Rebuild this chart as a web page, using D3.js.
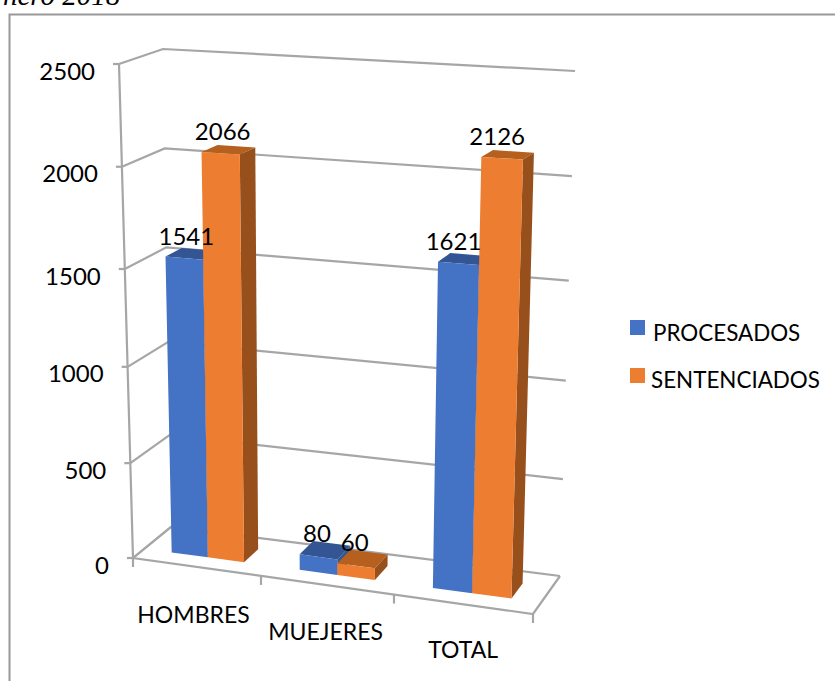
<!DOCTYPE html>
<html><head><meta charset="utf-8">
<script src="https://cdn.jsdelivr.net/npm/d3@7"></script>
<style>html,body{margin:0;padding:0;background:#fff;overflow:hidden}svg{display:block}text{font-family:Lato,sans-serif;fill:#000}</style>
</head><body><svg id="c" width="835" height="681"></svg>
<script>
const categories = ["HOMBRES","MUEJERES","TOTAL"];
const seriesNames = ["PROCESADOS","SENTENCIADOS"];
const procesados = [1541,80,1621];
const sentenciados = [2066,60,2126];
const yTicks = [0,500,1000,1500,2000,2500];
const titleText = "nero 2018";

const front=["#4472C4","#ED7D31"], top_=["#335593","#B5601F"], side=["#2F5597","#97501C"];
const grid="#A6A6A6";
const svg=d3.select("#c");

// depth-projection: four vertical edges of the 3-D box
const edges={
 fl:{b:[133,558],t:[119,64]},
 fr:{b:[533,614],t:[549,84]},
 bl:{b:[171,527],t:[163,49]},
 br:{b:[560,576],t:[575,71]}
};
const vT=d3.scaleLinear().domain(yTicks).range([0,.192,.387,.585,.792,1]);
const uT=d3.scaleLinear().domain([0,1/3,2/3,1]).range([0,.32,.6525,1]);
const lerp=(a,b,t)=>[a[0]+(b[0]-a[0])*t,a[1]+(b[1]-a[1])*t];
function P(u0,d,v){
 const t=vT(v),u=uT(u0);
 const e=k=>lerp(edges[k].b,edges[k].t,t);
 return lerp(lerp(e("fl"),e("fr"),u),lerp(e("bl"),e("br"),u),d);
}
const x0=d3.scaleBand().domain(categories).range([0,1]).paddingInner(.43).paddingOuter(.215);
const x1=d3.scaleBand().domain(seriesNames).range([0,x0.bandwidth()]);
const D0=.3,D1=.7;
const line=pts=>"M"+pts.map(p=>p.join(",")).join("L");

// frame: only the top and left rules fall inside the picture
svg.append("path").attr("d","M9.5,681L9.5,14.5L835,14.5").attr("fill","none")
 .attr("stroke","#999").attr("stroke-width",2);

svg.append("text").text(titleText).attr("x",3).attr("y",4.5)
 .style("font-family","'Liberation Serif',serif").style("font-style","italic").style("font-size","29px");

const W=2.2;
const G=svg.append("g").attr("fill","none").attr("stroke",grid).attr("stroke-width",W);
yTicks.forEach(v=>{
 G.append("path").attr("d",line([P(0,0,v),P(0,1,v),P(1,1,v)]));
 const p=P(0,0,v);
 G.append("path").attr("d",line([[p[0]-6,p[1]],p]));
});
G.append("path").attr("d",line([P(0,0,0),P(0,0,2500)]));
G.append("path").attr("d",line([P(0,1,0),P(0,0,0),P(1,0,0),P(1,1,0)]));
[0,1,2,3].forEach(i=>{const p=P(i/3,0,0);G.append("path").attr("d",line([p,[p[0],p[1]+9]]));});

// bars
const seriesValues=[procesados,sentenciados];
const bars=svg.append("g");
categories.forEach((c,ci)=>{
 seriesNames.forEach((s,si)=>{
  const v=seriesValues[si][ci];
  const a=x0(c)+x1(s), b=a+x1.bandwidth();
  bars.append("path").attr("fill",top_[si]).attr("d",line([P(a,D0,v),P(b,D0,v),P(b,D1,v),P(a,D1,v)])+"Z");
  bars.append("path").attr("fill",side[si]).attr("d",line([P(b,D0,v),P(b,D1,v),P(b,D1,0),P(b,D0,0)])+"Z");
  bars.append("path").attr("fill",front[si]).attr("d",line([P(a,D0,v),P(b,D0,v),P(b,D0,0),P(a,D0,0)])+"Z");
 });
});

const numSize=24, capSize=23, legSize=22.4;
// axis labels
yTicks.forEach(v=>{
 const p=P(0,0,v);
 svg.append("text").text(v).attr("x",p[0]-24).attr("y",p[1]+15.5).attr("text-anchor","end").style("font-size",numSize+"px");
});
categories.forEach((c,i)=>{
 const p=P((i+.5)/3,0,0);
 svg.append("text").text(c).attr("x",p[0]-3.5+1.6*i).attr("y",p[1]+56-i).attr("text-anchor","middle").style("font-size",capSize+"px");
});
// data labels
categories.forEach((c,ci)=>{
 seriesNames.forEach((s,si)=>{
  const v=seriesValues[si][ci];
  const a=x0(c)+x1(s)+x1.bandwidth()/2;
  const p=P(a,D0,v);
  svg.append("text").text(v).attr("x",p[0]+2-3.5*ci).attr("y",p[1]-(v<500?15:13)).attr("text-anchor","middle").style("font-size",numSize+"px");
 });
});
// legend
const lg=d3.scaleOrdinal().domain(seriesNames).range([320,368]);
seriesNames.forEach((s,i)=>{
 svg.append("rect").attr("x",630).attr("y",lg(s)).attr("width",15).attr("height",15).attr("fill",front[i]);
 svg.append("text").text(s).attr("x",653-2*i).attr("y",lg(s)+21-i).style("font-size",legSize+"px");
});
</script></body></html>
